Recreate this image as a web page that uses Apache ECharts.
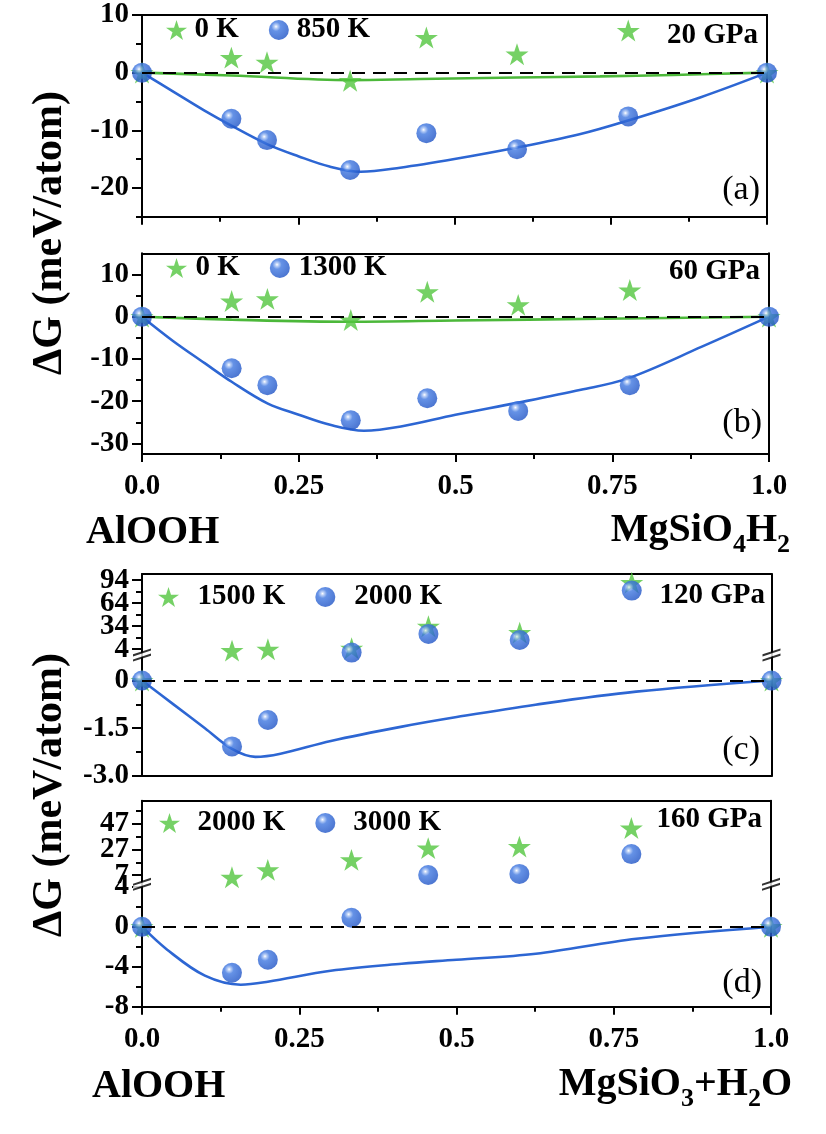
<!DOCTYPE html>
<html><head><meta charset="utf-8">
<script src="https://cdn.jsdelivr.net/npm/echarts@6/dist/echarts.min.js"></script>
<style>html,body{margin:0;padding:0;background:#fff}#c{width:826px;height:1134px}</style>
</head><body><div id="c"></div>
<script>
// ---------------- DATA ----------------
const xComp = [0, 0.143, 0.2, 0.333, 0.455, 0.6, 0.778, 1];
const xTicks = [0, 0.25, 0.5, 0.75, 1];
const xTickLabels = ['0.0', '0.25', '0.5', '0.75', '1.0'];

// (a) 20 GPa
const a_0K   = [0, 2.6, 1.8, -1.4, 6.1, 3.2, 7.3, 0];
const a_850K = [0, -8.0, -11.7, -16.9, -10.5, -13.3, -7.6, 0];
const a_fitX    = [0, 0.05, 0.1, 0.143, 0.2, 0.25, 0.3, 0.35, 0.413, 0.5, 0.6, 0.7, 0.775, 0.893, 1];
const a_fit850K = [0, -3.3, -6.6, -9.2, -12.4, -14.5, -16.3, -17.2, -16.5, -15.0, -13.0, -10.7, -8.4, -4.3, 0];
const a_fit0KX  = [0, 0.143, 0.333, 0.445, 0.6, 0.733, 0.85, 1];
const a_fit0K   = [0, -0.5, -1.3, -1.1, -0.85, -0.65, -0.4, 0];
const a_yTicks = [-20, -10, 0, 10];
const a_yLabels = ['-20', '-10', '0', '10'];
const a_yMinor = [-25, -15, -5, 5];

// (b) 60 GPa
const b_0K    = [0, 3.7, 4.2, -0.8, 5.9, 2.8, 6.3, 0];
const b_1300K = [0, -12.2, -16.2, -24.5, -19.3, -22.3, -16.2, 0];
const b_fitX     = [0, 0.05, 0.1, 0.143, 0.2, 0.25, 0.3, 0.354, 0.413, 0.5, 0.598, 0.7, 0.775, 0.893, 1];
const b_fit1300K = [0, -5.8, -11.0, -15.4, -20.5, -23.2, -25.6, -27.0, -26.0, -23.2, -20.4, -17.3, -14.6, -7.1, 0];
const b_fit0KX   = [0, 0.143, 0.333, 0.5, 0.733, 1];
const b_fit0K    = [0, -0.7, -1.2, -0.9, -0.5, 0];
const b_yTicks = [-30, -20, -10, 0, 10];
const b_yLabels = ['-30', '-20', '-10', '0', '10'];
const b_yMinor = [-25, -15, -5, 5];

// (c) 120 GPa  (broken axis: upper and lower segment)
const c_1500K_up  = [null, 2.2, 4.0, 5.3, 34, 25.6, 90.8, null];
const c_1500K_low = [0, null, null, null, null, null, null, 0];
const c_2000K_up  = [null, null, null, -0.4, 24, 16, 80.4, null];
const c_2000K_low = [0, -2.07, -1.24, null, null, null, null, 0];
const c_fitX     = [0, 0.05, 0.1, 0.143, 0.18, 0.22, 0.3, 0.413, 0.5, 0.625, 0.785, 1];
const c_fit2000K = [0, -0.75, -1.5, -2.15, -2.4, -2.3, -1.9, -1.45, -1.15, -0.76, -0.35, 0];
const c_upTicks = [4, 34, 64, 94];
const c_upLabels = ['4', '34', '64', '94'];
const c_upMinor = [19, 49, 79];
const c_lowTicks = [-3, -1.5, 0];
const c_lowLabels = ['-3.0', '-1.5', '0'];
const c_lowMinor = [-2.25, -0.75];

// (d) 160 GPa  (broken axis)
const d_2000K_up  = [null, 5.4, 11.1, 18.8, 27.9, 29.1, 43.4, null];
const d_2000K_low = [0, null, null, null, null, null, null, 0];
const d_3000K_up  = [null, null, null, null, 7.2, 8.0, 23.3, null];
const d_3000K_low = [0, -4.6, -3.3, 0.9, null, null, null, 0];
const d_fitX     = [0, 0.04, 0.1, 0.157, 0.2, 0.3, 0.413, 0.5, 0.626, 0.786, 1];
const d_fit3000K = [0, -2.3, -4.9, -5.8, -5.5, -4.4, -3.7, -3.3, -2.7, -1.2, 0];
const d_upTicks = [7, 27, 47];
const d_upLabels = ['7', '27', '47'];
const d_upMinor = [17, 37, 57];
const d_lowTicks = [-8, -4, 0, 4];
const d_lowLabels = ['-8', '-4', '0', '4'];
const d_lowMinor = [-6, -2, 2];

// ---------------- STYLE / LAYOUT ----------------
const FONT = '"Liberation Serif","Times New Roman",serif';
const BLUE = '#2d66d3', GREEN_LINE = '#4cb83a', GREEN_STAR = '#52c53e';
const STAR = 'path://M50 0 L61.23 34.55 L97.55 34.55 L68.17 55.9 L79.39 90.45 L50 69.1 L20.61 90.45 L31.83 55.9 L2.45 34.55 L38.77 34.55 Z';
const BALL = {type:'radial', x:0.36, y:0.33, r:0.72, colorStops:[
  {offset:0, color:'#ffffff'}, {offset:0.12, color:'#a8c3f4'}, {offset:0.32, color:'#3f77e0'}, {offset:1, color:'#1e52c4'}]};
const BREAK_LINES = 'path://M0 8 L22 1 L22 3.5 L0 10.5 Z M0 14 L22 7 L22 9.5 L0 16.5 Z';
const BREAK_MASK = 'path://M0 10.5 L22 3.5 L22 7 L0 14 Z';
const LS = {color:'#000', width:2};
const tickFont = {fontFamily: FONT, fontWeight:'bold', fontSize:29, color:'#000'};

const grids = [], xAxes = [], yAxes = [], series = [];
const zip = (xs, ys) => xs.map((x, i) => [x, ys[i]]).filter(p => p[1] !== null);
const pick = (vals, labels) => v => { const i = vals.findIndex(m => Math.abs(m - v) < 1e-9); return i >= 0 ? labels[i] : ''; };

function addGrid(box, y, x) {
  const gi = grids.length;
  grids.push({left: box.l, top: box.t, width: box.r - box.l, height: box.b - box.t});
  const xi = xAxes.length;
  xAxes.push({type:'value', gridIndex:gi, min:0, max:1, interval:0.25, position:x.pos,
    axisLine:{show:x.line, onZero:false, lineStyle:LS},
    axisTick:{show:x.ticks, length:8, lineStyle:LS},
    minorTick:{show:x.ticks, splitNumber:2, length:5, lineStyle:LS},
    axisLabel:Object.assign({show:x.labels, margin:18, hideOverlap:false, showMinLabel:true, showMaxLabel:true,
      formatter:pick(xTicks, xTickLabels)}, tickFont),
    splitLine:{show:false}, minorSplitLine:{show:false}});
  if (x.topLine) xAxes.push({type:'value', gridIndex:gi, min:0, max:1, position:'top',
    axisLine:{show:true, onZero:false, lineStyle:LS}, axisTick:{show:false}, axisLabel:{show:false}, splitLine:{show:false}});
  // labels split over two axes so that closely spaced labels are never dropped
  const labA = y.major.filter((_, i) => i % 2 === 0);
  const labB = y.major.filter((_, i) => i % 2 === 1);
  const yi = yAxes.length;
  yAxes.push({type:'value', gridIndex:gi, min:y.min, max:y.max, position:'left',
    axisLine:{show:true, onZero:false, lineStyle:LS},
    axisTick:{show:true, length:10, customValues:y.major, lineStyle:LS},
    axisLabel:Object.assign({show:true, customValues:labA, margin:13, hideOverlap:false,
      formatter:pick(y.major, y.labels)}, tickFont),
    splitLine:{show:false}});
  yAxes.push({type:'value', gridIndex:gi, min:y.min, max:y.max, position:'left',
    axisLine:{show:false, onZero:false}, axisTick:{show:true, length:6, customValues:y.minor, lineStyle:LS},
    axisLabel:Object.assign({show:labB.length > 0, customValues:labB, margin:13, hideOverlap:false,
      formatter:pick(y.major, y.labels)}, tickFont),
    splitLine:{show:false}});
  yAxes.push({type:'value', gridIndex:gi, min:y.min, max:y.max, position:'right',
    axisLine:{show:true, onZero:false, lineStyle:LS}, axisTick:{show:false}, axisLabel:{show:false}, splitLine:{show:false}});
  return {xi, yi, y};
}

function fitLine(ax, xs, ys, color, zero) {
  const s = {type:'line', xAxisIndex:ax.xi, yAxisIndex:ax.yi, data:zip(xs, ys), smooth:0.35, symbol:'none',
    lineStyle:{color, width:2.6}, z:2, silent:true, animation:false};
  if (zero) s.markLine = {silent:true, symbol:['none','none'], label:{show:false}, animation:false,
    lineStyle:{type:[13,8], color:'#000', width:2}, data:[{yAxis:0}]};
  series.push(s);
}
function stars(ax, name, ys) {
  series.push({type:'scatter', name, xAxisIndex:ax.xi, yAxisIndex:ax.yi, data:zip(xComp, ys), symbol:STAR,
    symbolSize:23, symbolKeepAspect:true, itemStyle:{color:GREEN_STAR}, z:3, clip:false});
}
function balls(ax, name, ys) {
  series.push({type:'scatter', name, xAxisIndex:ax.xi, yAxisIndex:ax.yi, data:zip(xComp, ys), symbol:'circle',
    symbolSize:20, itemStyle:{color:BALL}, z:4, clip:false});
}
function breakMark(ax) {
  const pts = [[0, ax.y.min], [1, ax.y.min]];
  series.push({type:'scatter', xAxisIndex:ax.xi, yAxisIndex:ax.yi, data:pts, symbol:BREAK_MASK, symbolSize:[18, 13],
    itemStyle:{color:'#fff'}, z:5, clip:false, silent:true});
  series.push({type:'scatter', xAxisIndex:ax.xi, yAxisIndex:ax.yi, data:pts, symbol:BREAK_LINES, symbolSize:[18, 13],
    itemStyle:{color:'#000'}, z:6, clip:false, silent:true});
}

// (a)
const A = addGrid({l:142, r:767, t:15, b:216.7},
  {min:-25, max:10, major:a_yTicks, labels:a_yLabels, minor:a_yMinor},
  {pos:'bottom', line:true, ticks:true, labels:false, topLine:true});
fitLine(A, a_fit0KX, a_fit0K, GREEN_LINE, true);
fitLine(A, a_fitX, a_fit850K, BLUE, false);
stars(A, 'a|0 K', a_0K); balls(A, 'a|850 K', a_850K);

// (b)
const B = addGrid({l:142, r:769, t:253.3, b:454},
  {min:-32.5, max:15, major:b_yTicks, labels:b_yLabels, minor:b_yMinor},
  {pos:'bottom', line:true, ticks:true, labels:true, topLine:true});
fitLine(B, b_fit0KX, b_fit0K, GREEN_LINE, true);
fitLine(B, b_fitX, b_fit1300K, BLUE, false);
stars(B, 'b|0 K', b_0K); balls(B, 'b|1300 K', b_1300K);

// (c)
const CU = addGrid({l:142, r:771.5, t:574, b:655},
  {min:-3.5, max:102, major:c_upTicks, labels:c_upLabels, minor:c_upMinor},
  {pos:'top', line:true, ticks:false, labels:false, topLine:false});
const CL = addGrid({l:142, r:771.5, t:655, b:776},
  {min:-3, max:0.8, major:c_lowTicks, labels:c_lowLabels, minor:c_lowMinor},
  {pos:'bottom', line:true, ticks:false, labels:false, topLine:false});
fitLine(CL, c_fitX, c_fit2000K, BLUE, true);
stars(CU, 'c|1500 K', c_1500K_up); stars(CL, 'c|1500 K low', c_1500K_low);
balls(CU, 'c|2000 K', c_2000K_up); balls(CL, 'c|2000 K low', c_2000K_low);
breakMark(CU);

// (d)
const DU = addGrid({l:142, r:771, t:800.7, b:884.3},
  {min:0, max:64.5, major:d_upTicks, labels:d_upLabels, minor:d_upMinor},
  {pos:'top', line:true, ticks:false, labels:false, topLine:false});
const DL = addGrid({l:142, r:771, t:884.3, b:1006.7},
  {min:-8, max:4.24, major:d_lowTicks, labels:d_lowLabels, minor:d_lowMinor},
  {pos:'bottom', line:true, ticks:true, labels:true, topLine:false});
fitLine(DL, d_fitX, d_fit3000K, BLUE, true);
stars(DU, 'd|2000 K', d_2000K_up); stars(DL, 'd|2000 K low', d_2000K_low);
balls(DU, 'd|3000 K', d_3000K_up); balls(DL, 'd|3000 K low', d_3000K_low);
breakMark(DU);

// legends
const legTxt = {fontFamily:FONT, fontWeight:'bold', fontSize:29, color:'#000', lineHeight:30};
function legend(left, cy, w, names) {
  return {left, top:cy - 15, padding:0, itemWidth:w, itemHeight:20, itemGap:30, selectedMode:false,
    data:names, formatter:n => n.split('|')[1], textStyle:legTxt};
}
const legends = [
  legend(166, 30, 26, ['a|0 K', 'a|850 K']),
  legend(166, 268, 28, ['b|0 K', 'b|1300 K']),
  legend(158, 597, 48, ['c|1500 K', 'c|2000 K']),
  legend(159, 823, 46, ['d|2000 K', 'd|3000 K'])
];

// text labels
const bold = (size) => ({fontFamily:FONT, fontWeight:'bold', fontSize:size, color:'#000', lineHeight:size});
const reg = (size) => ({fontFamily:FONT, fontWeight:'normal', fontSize:size, color:'#000', lineHeight:size});
const richSub = {
  n:{fontFamily:FONT, fontWeight:'bold', fontSize:40, color:'#000', lineHeight:44, verticalAlign:'top'},
  s:{fontFamily:FONT, fontWeight:'bold', fontSize:26, color:'#000', lineHeight:26, padding:[21,0,0,0], verticalAlign:'top'}
};
const titles = [
  {text:'20 GPa', right:68, top:21, padding:0, textStyle:bold(29)},
  {text:'60 GPa', right:66, top:257, padding:0, textStyle:bold(29)},
  {text:'120 GPa', right:61, top:581, padding:0, textStyle:bold(29)},
  {text:'160 GPa', right:64, top:805, padding:0, textStyle:bold(29)},
  {text:'(a)', right:66, top:173, padding:0, textStyle:reg(34)},
  {text:'(b)', right:64, top:406, padding:0, textStyle:reg(34)},
  {text:'(c)', right:66, top:733, padding:0, textStyle:reg(34)},
  {text:'(d)', right:64, top:966, padding:0, textStyle:reg(34)},
  {text:'AlOOH', left:86, top:513, padding:0, textStyle:bold(40)},
  {text:'{n|MgSiO}{s|4}{n|H}{s|2}', right:36, top:511, padding:0, textStyle:{rich:richSub}},
  {text:'AlOOH', left:92, top:1067, padding:0, textStyle:bold(40)},
  {text:'{n|MgSiO}{s|3}{n|+H}{s|2}{n|O}', right:34, top:1065, padding:0, textStyle:{rich:richSub}}
];

const yTitle = (cy) => ({type:'text', x:50, y:cy, rotation:Math.PI/2,
  style:{text:'ΔG (meV/atom)', font:'bold 42px "Liberation Serif"', fill:'#000',
         align:'center', verticalAlign:'middle', textAlign:'center', textVerticalAlign:'middle'}});

const chart = echarts.init(document.getElementById('c'), null, {renderer:'canvas'});
chart.setOption({
  animation:false,
  backgroundColor:'#fff',
  grid:grids, xAxis:xAxes, yAxis:yAxes, series,
  legend:legends, title:titles,
  graphic:[yTitle(233), yTitle(795)]
});
</script></body></html>
